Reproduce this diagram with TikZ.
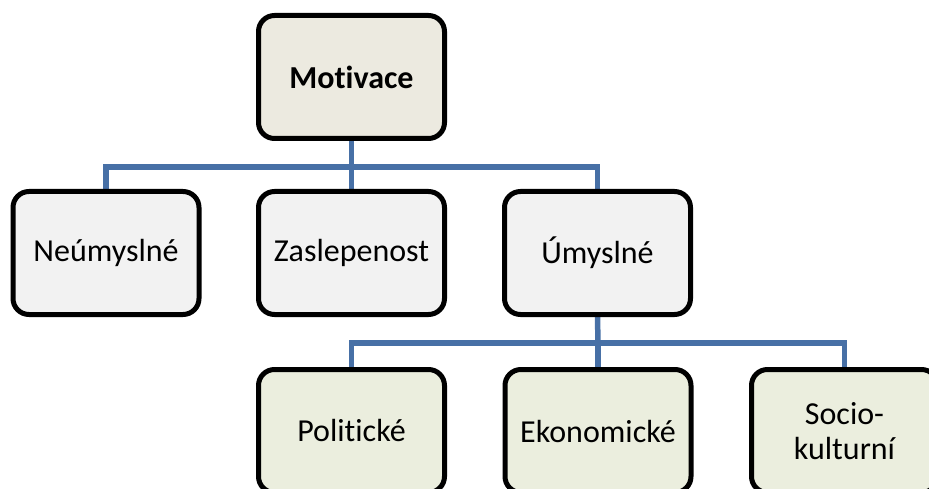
\documentclass[tikz,border=0pt]{standalone}
\usepackage{fontspec}
\setmainfont{Carlito}[Ligatures=CommonOff]
\usetikzlibrary{backgrounds}
\definecolor{topfill}{HTML}{ECEAE0}
\definecolor{midfill}{HTML}{F2F2F2}
\definecolor{lowfill}{HTML}{EBEEDE}
\definecolor{linkblue}{HTML}{4770A6}
\begin{document}
\begin{tikzpicture}[x=1pt,y=-1pt,
  box/.style={draw=black, line width=5pt, rounded corners=16pt,
    minimum width=186pt, minimum height=123pt, align=center,
    inner sep=0pt, font=\fontsize{32}{35}\selectfont},
  topbox/.style={box, fill=topfill, font=\fontsize{32}{35}\selectfont\bfseries},
  midbox/.style={box, fill=midfill},
  lowbox/.style={box, fill=lowfill},
  link/.style={draw=linkblue, line width=5.5pt}]
  \clip (0,0) rectangle (929,489);
  \useasboundingbox (0,0) rectangle (929,489);

  % root
  \node[topbox] (mot) at (351.5,77) {Motivace};

  % second level
  \node[midbox] (neu) at (106,253) {Neúmyslné};
  \node[midbox] (zas) at (351.5,253) {Zaslepenost};
  \node[midbox] (uml) at (597.5,253) {Úmyslné};

  % third level
  \node[lowbox] (pol) at (351.5,431) {Politické};
  \node[lowbox] (eko) at (598,431) {Ekonomické};
  \node[lowbox] (soc) at (844.5,431) {Socio-\\kulturní};

  % branching points
  \coordinate (b1) at (351.5,167);
  \coordinate (b2) at (598,343);

  \begin{scope}[on background layer]
    \draw[link] (mot.south) -- (b1);
    \draw[link] (neu.north) |- (b1);
    \draw[link] (zas.north) -- (b1);
    \draw[link] (uml.north) |- (b1);
    \draw[link] (uml.south) -- (b2);
    \draw[link] (pol.north) |- (b2);
    \draw[link] (eko.north) -- (b2);
    \draw[link] (soc.north) |- (b2);
  \end{scope}
\end{tikzpicture}
\end{document}
